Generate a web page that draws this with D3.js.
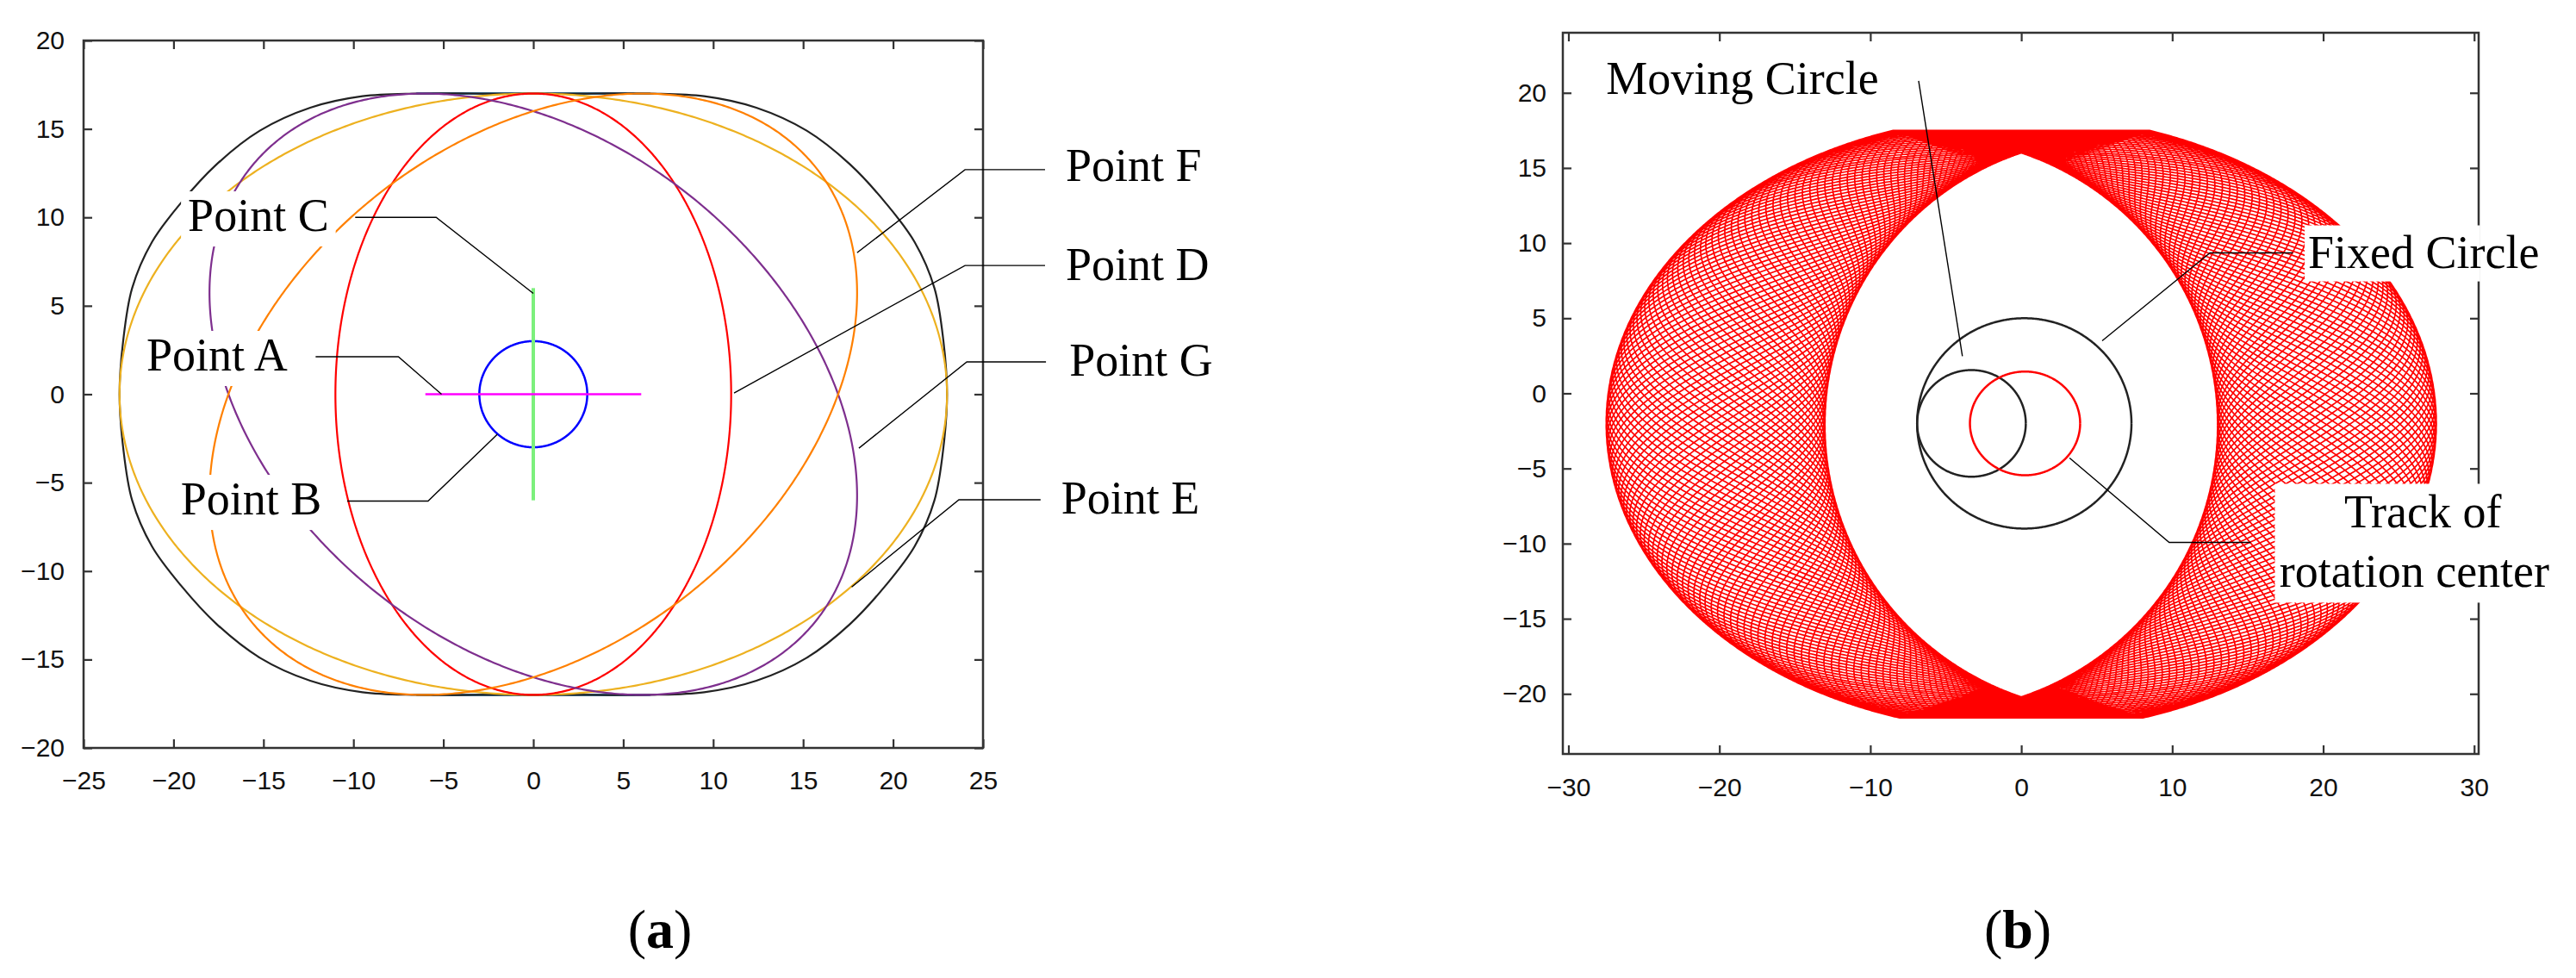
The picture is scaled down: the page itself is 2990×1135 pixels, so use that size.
<!DOCTYPE html>
<html><head><meta charset="utf-8">
<script src="https://cdn.jsdelivr.net/npm/d3@7"></script>
<style>body{margin:0;background:#fff}svg{display:block}</style>
</head><body>
<svg id="c" width="2990" height="1135"></svg>
<script>
// ---------- data: panel (a) ----------
const aXTicks = [-25,-20,-15,-10,-5,0,5,10,15,20,25];
const aYTicks = [-20,-15,-10,-5,0,5,10,15,20];
// trajectories as x = ax*cos t, y = ay*cos(t - phase)
const aCurveNames  = ["Point E","Point D","Point G","Point F"];
const aCurveColors = ["#EDB120","#FF0000","#7E2F8E","#FF8000"];
const aCurveXAmp   = [23, 11, 18, 18];
const aCurveYAmp   = [17, 17, 17, 17];
const aCurvePhase  = [1.5708, 1.5708, 1.915, 1.227];
// outer envelope (first quadrant, mirrored)
const envX = [23, 22.8, 22.3, 21.2, 19.6, 17.6, 15.2, 12.4, 9.5, 6.5, 3, 0];
const envY = [0, 3, 6, 8.6, 10.8, 13, 14.9, 16.2, 16.85, 17, 17, 17];
const blueCircleR = 3;
const greenBar = [-6, 6];   // Point C (vertical)
const magentaBar = [-6, 6]; // Point A (horizontal)
const aLabels = ["Point C","Point A","Point B","Point F","Point D","Point G","Point E"];
const aLabelX = [-19.2,-21.5,-19.6,29.6,29.6,29.8,29.35];
const aLabelY = [9.23, 1.34, -6.8, 12.05, 6.45, 1.05, -6.75];
const aLeaders = [
  [[-9.9,10.0],[-5.4,10.0],[0,5.7]],
  [[-12.1,2.12],[-7.5,2.12],[-5.1,0]],
  [[-10.35,-6.04],[-5.85,-6.04],[-2.0,-2.27]],
  [[28.45,12.7],[24.0,12.7],[18.0,8.0]],
  [[28.45,7.28],[24.0,7.28],[11.16,0.07]],
  [[28.5,1.83],[24.1,1.83],[18.1,-3.05]],
  [[28.2,-5.97],[23.66,-5.97],[17.7,-10.9]]
];
// ---------- data: panel (b) ----------
const bXTicks = [-30,-20,-10,0,10,20,30];
const bYTicks = [-20,-15,-10,-5,0,5,10,15,20];
const bandOuter = {rx:27.5, cy:-2, ry:20.5, top:17.5, bottom:-21.6};
const bandInner = {w:13, cy:-2.1, h:18.1};
const bandLoops = [60];
const bandWaves = [4.0167];
const circNames = ["Fixed Circle","Moving Circle","Track of rotation center"];
const circCx = [0.2, -3.3, 0.25];
const circCy = [-2.0, -2.0, -2.0];
const circRx = [7.1, 3.6, 3.65];
const circRy = [7.0, 3.55, 3.45];
const circColors = ["#222","#222","#FF0000"];
const bLeaders = [
  [[-6.8,20.8],[-3.9,2.47]],
  [[18.0,9.35],[12.5,9.35],[5.36,3.5]],
  [[15.2,-9.92],[9.8,-9.92],[3.2,-4.3]]
];
const bBoxes = [[18.77,11.18,30.4,7.45],[16.8,-6.02,35.8,-13.93]];

const svg = d3.select("#c");
const serif = "'Liberation Serif','Times New Roman',serif";
const sans = "'Liberation Sans',Arial,sans-serif";

function frame(g, x, y, xt, yt, padB, padL){
  const [x0,x1]=x.range(), [y0,y1]=y.range();
  const bot = g.append("g").attr("transform",`translate(0,${y0})`).call(d3.axisBottom(x).tickValues(xt).tickSize(-10).tickPadding(padB).tickFormat(d3.format("d")));
  const top = g.append("g").attr("transform",`translate(0,${y1})`).call(d3.axisTop(x).tickValues(xt).tickSize(-10).tickFormat(""));
  const lef = g.append("g").attr("transform",`translate(${x0},0)`).call(d3.axisLeft(y).tickValues(yt).tickSize(-10).tickPadding(padL).tickFormat(d3.format("d")));
  const rig = g.append("g").attr("transform",`translate(${x1},0)`).call(d3.axisRight(y).tickValues(yt).tickSize(-10).tickFormat(""));
  [bot,top,lef,rig].forEach(a=>{a.select(".domain").remove();
    a.selectAll("line").attr("stroke","#333").attr("stroke-width",2.2);
    a.selectAll("text").attr("font-family",sans).attr("font-size",30).attr("fill","#111");});
  g.append("rect").attr("x",x0).attr("y",y1).attr("width",x1-x0).attr("height",y0-y1)
   .attr("fill","none").attr("stroke","#333").attr("stroke-width",2.5);
}

// ---------- panel (a) ----------
const xa = d3.scaleLinear().domain([-25,25]).range([97,1141]);
const ya = d3.scaleLinear().domain([-20,20]).range([868,47]);
const ga = svg.append("g");
frame(ga, xa, ya, aXTicks, aYTicks, 27, 22);
const line = d3.line().x(d=>xa(d[0])).y(d=>ya(d[1]));
const T = d3.range(0, 2*Math.PI+0.001, Math.PI/360);
[17,-17].forEach(yy=>ga.append("path").attr("d",line([[-6.5,yy],[6.5,yy]])).attr("stroke","#0072BD").attr("stroke-width",2.5).attr("fill","none"));
const env=[];
envX.forEach((v,i)=>env.push([v,envY[i]]));
for(let i=envX.length-2;i>=0;i--) env.push([-envX[i],envY[i]]);
for(let i=1;i<envX.length;i++) env.push([-envX[i],-envY[i]]);
for(let i=envX.length-2;i>0;i--) env.push([envX[i],-envY[i]]);
ga.append("path").attr("d",d3.line().x(d=>xa(d[0])).y(d=>ya(d[1])).curve(d3.curveCatmullRomClosed.alpha(0.5))(env))
  .attr("fill","none").attr("stroke","#222").attr("stroke-width",2.2);
aCurveNames.forEach((n,i)=>{
  const pts=T.map(t=>[aCurveXAmp[i]*Math.cos(t), aCurveYAmp[i]*Math.cos(t-aCurvePhase[i])]);
  ga.append("path").attr("d",line(pts)).attr("fill","none").attr("stroke",aCurveColors[i]).attr("stroke-width",2.2);
});
ga.append("path").attr("d",line(T.map(t=>[blueCircleR*Math.cos(t),blueCircleR*Math.sin(t)]))).attr("fill","none").attr("stroke","#0000FF").attr("stroke-width",2.5);
ga.append("path").attr("d",line([[0,greenBar[0]],[0,greenBar[1]]])).attr("stroke","#7CF07C").attr("stroke-width",4);
ga.append("path").attr("d",line([[magentaBar[0],0],[magentaBar[1],0]])).attr("stroke","#FF00FF").attr("stroke-width",2.5);
aLabels.forEach((s,i)=>{
  const t=ga.append("text").attr("x",xa(aLabelX[i])).attr("y",ya(aLabelY[i])).text(s)
    .attr("font-family",serif).attr("font-size",54).attr("fill","#000");
  if(i<3){const b=t.node().getBBox();
    ga.insert("rect",()=>t.node()).attr("x",b.x-8).attr("y",b.y+2).attr("width",b.width+16).attr("height",b.height+4).attr("fill","#fff");}
});
aLeaders.forEach(p=>ga.append("path").attr("d",line(p)).attr("fill","none").attr("stroke","#000").attr("stroke-width",1.4));
svg.append("text").attr("x",766).attr("y",1100).attr("text-anchor","middle").attr("font-family",serif).attr("font-size",64)
  .html("(<tspan font-weight='bold'>a</tspan>)");

// ---------- panel (b) ----------
const xb = d3.scaleLinear().domain([-30.37,30.3]).range([1814,2877]);
const yb = d3.scaleLinear().domain([-24,24]).range([875,38]);
const gb = svg.append("g");
frame(gb, xb, yb, bXTicks, bYTicks, 28, 19);
const lineb = d3.line().x(d=>xb(d[0])).y(d=>yb(d[1]));
const R = (bandInner.h*bandInner.h + bandInner.w*bandInner.w)/(2*bandInner.w);
function inner(t){const dy=bandInner.h*Math.sin(t);const s=Math.cos(t)>=0?1:-1;
  return [s*(Math.sqrt(R*R-dy*dy)-(R-bandInner.w)), bandInner.cy+dy];}
function outer(t){return [bandOuter.rx*Math.cos(t), Math.max(bandOuter.bottom, Math.min(bandOuter.top, bandOuter.cy+bandOuter.ry*Math.sin(t)))];}
const N = bandLoops[0]*1500, mesh=[];
for(let k=0;k<=N;k++){const t=k/N*bandLoops[0]*2*Math.PI;
  const s=0.5-0.5*Math.cos(t*bandWaves[0]);const a=inner(t),b=outer(t);
  mesh.push([a[0]+(b[0]-a[0])*s, a[1]+(b[1]-a[1])*s]);}
gb.append("path").attr("d",lineb(mesh)).attr("fill","none").attr("stroke","#FF0000").attr("stroke-width",1.7);
circNames.forEach((n,i)=>{
  gb.append("path").attr("d",lineb(T.map(t=>[circCx[i]+circRx[i]*Math.cos(t),circCy[i]+circRy[i]*Math.sin(t)])))
    .attr("fill","none").attr("stroke",circColors[i]).attr("stroke-width",2.5);
});
bBoxes.forEach(b=>gb.append("rect").attr("x",xb(b[0])).attr("y",yb(b[1])).attr("width",xb(b[2])-xb(b[0])).attr("height",yb(b[3])-yb(b[1])).attr("fill","#fff"));
const tb=(s,x,y,anchor)=>gb.append("text").attr("x",xb(x)).attr("y",yb(y)).attr("text-anchor",anchor||"start").text(s)
  .attr("font-family",serif).attr("font-size",54).attr("fill","#000");
tb("Moving Circle",-27.5,19.9);
tb("Fixed Circle",19.0,8.37);
tb("Track of",26.6,-8.94,"middle");
tb("rotation center",17.1,-12.9);
bLeaders.forEach(p=>gb.append("path").attr("d",lineb(p)).attr("fill","none").attr("stroke","#000").attr("stroke-width",1.4));
svg.append("text").attr("x",2342).attr("y",1100).attr("text-anchor","middle").attr("font-family",serif).attr("font-size",64)
  .html("(<tspan font-weight='bold'>b</tspan>)");
</script>
</body></html>
